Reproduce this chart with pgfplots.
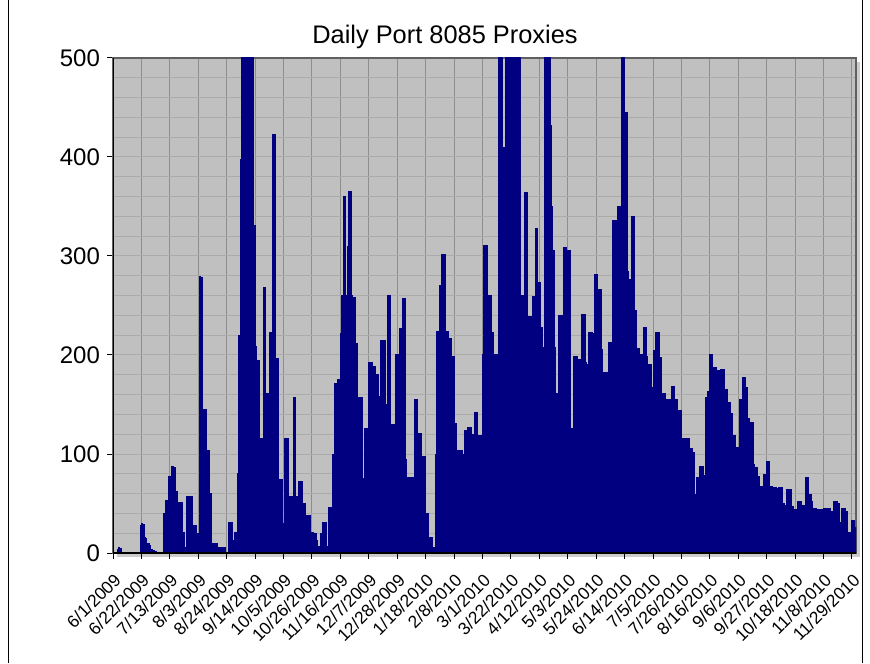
\documentclass[border=0pt]{standalone}
\usepackage{fontspec}
\setmainfont{Liberation Sans}
\usepackage{pgfplots}
\pgfplotsset{compat=1.18}
\usepackage{pgfplotstable}
\definecolor{navybar}{HTML}{000080}
\definecolor{plotbg}{HTML}{C0C0C0}
\definecolor{vgrid}{HTML}{8E8E8E}
\definecolor{hgrid}{HTML}{ABABAB}
\pgfplotstableread[row sep=\\]{
v\\
0\\0\\0\\4\\6\\5\\0\\0\\0\\0\\
0\\0\\0\\0\\0\\0\\0\\0\\0\\0\\
28\\30\\29\\16\\15\\10\\10\\8\\4\\3\\
3\\2\\0\\0\\0\\0\\0\\40\\40\\53\\
53\\77\\77\\87\\87\\86\\62\\62\\51\\51\\
51\\21\\21\\6\\57\\57\\57\\57\\57\\28\\
28\\28\\20\\20\\279\\278\\145\\145\\145\\104\\
104\\60\\60\\10\\10\\10\\10\\6\\6\\6\\
6\\6\\6\\0\\0\\31\\31\\31\\13\\13\\
21\\21\\80\\220\\397\\600\\600\\600\\600\\600\\
600\\600\\600\\600\\331\\209\\194\\194\\116\\116\\
116\\268\\268\\161\\161\\161\\223\\223\\423\\423\\
196\\196\\74\\74\\74\\30\\30\\116\\116\\116\\
57\\57\\57\\157\\157\\57\\57\\72\\72\\72\\
50\\50\\38\\38\\38\\38\\21\\21\\13\\20\\
13\\7\\7\\20\\20\\31\\31\\31\\7\\46\\
46\\46\\99\\99\\171\\91\\175\\175\\222\\260\\
360\\360\\260\\310\\365\\365\\260\\258\\258\\212\\
212\\157\\157\\157\\75\\75\\126\\126\\126\\192\\
192\\192\\188\\188\\180\\180\\158\\158\\215\\215\\
215\\150\\150\\260\\260\\130\\130\\130\\67\\200\\
200\\200\\227\\227\\257\\257\\94\\76\\76\\76\\
76\\76\\70\\155\\155\\121\\121\\121\\97\\97\\
97\\40\\40\\16\\16\\16\\6\\6\\100\\224\\
224\\270\\270\\302\\302\\302\\224\\224\\217\\217\\
198\\198\\131\\131\\104\\104\\104\\104\\99\\99\\
124\\124\\127\\127\\127\\120\\120\\142\\142\\119\\
119\\119\\99\\200\\311\\311\\311\\260\\260\\260\\
223\\200\\200\\200\\114\\600\\600\\600\\410\\410\\
600\\600\\600\\600\\600\\600\\600\\600\\600\\600\\
600\\260\\260\\205\\364\\364\\111\\239\\239\\239\\
259\\259\\328\\328\\273\\273\\228\\134\\208\\600\\
600\\600\\600\\432\\350\\306\\208\\161\\161\\240\\
240\\240\\200\\309\\309\\230\\306\\306\\126\\126\\
198\\198\\198\\126\\195\\195\\241\\241\\241\\192\\
190\\223\\223\\223\\222\\222\\281\\281\\266\\266\\
266\\206\\182\\182\\182\\182\\213\\213\\213\\336\\
336\\336\\269\\350\\350\\350\\600\\600\\445\\445\\
284\\276\\276\\340\\340\\245\\245\\207\\207\\200\\
200\\200\\228\\228\\198\\190\\190\\190\\167\\205\\
205\\223\\223\\223\\197\\146\\161\\161\\155\\155\\
155\\155\\155\\168\\168\\155\\155\\144\\144\\144\\
116\\116\\116\\116\\116\\116\\106\\106\\102\\102\\
59\\76\\76\\87\\87\\87\\78\\78\\157\\163\\
163\\200\\200\\187\\187\\187\\184\\184\\139\\185\\
185\\185\\165\\165\\152\\152\\141\\141\\119\\119\\
77\\107\\107\\155\\155\\177\\177\\167\\167\\136\\
132\\132\\132\\89\\86\\86\\77\\77\\67\\67\\
67\\79\\79\\92\\92\\67\\67\\66\\66\\66\\
65\\65\\66\\66\\66\\50\\48\\48\\64\\64\\
64\\47\\47\\44\\44\\44\\52\\52\\52\\48\\
48\\48\\76\\76\\59\\59\\52\\45\\45\\45\\
44\\44\\44\\44\\39\\45\\45\\45\\45\\45\\
42\\42\\52\\52\\52\\50\\50\\31\\45\\45\\
45\\42\\42\\21\\21\\21\\33\\33\\26\\
}\proxies

\begin{document}
\begin{tikzpicture}[x=1pt,y=1pt]
\useasboundingbox (0,0) rectangle (435,331.5);
\fill[white] (0,0) rectangle (435,331.5);
\draw[black, line width=0.5pt] (4,0) -- (4,331.5);
\draw[black, line width=0.5pt] (431,0) -- (431,331.5);
\fill[gray!40] (58.5,53) rectangle (430,300.5);
\node[font=\fontsize{12.7}{15}\selectfont] at (222.5,313) {Daily Port 8085 Proxies};
\begin{axis}[
  at={(56.5pt,55pt)}, anchor=south west,
  scale only axis, width=371.5pt, height=247.5pt,
  xmin=0, xmax=549, ymin=0, ymax=500,
  axis background/.style={fill=plotbg},
  axis line style={draw=gray!75!black, line width=0.6pt},
  xtick={0,21,...,546},
  xticklabels={6/1/2009,6/22/2009,7/13/2009,8/3/2009,8/24/2009,9/14/2009,10/5/2009,10/26/2009,11/16/2009,12/7/2009,12/28/2009,1/18/2010,2/8/2010,3/1/2010,3/22/2010,4/12/2010,5/3/2010,5/24/2010,6/14/2010,7/5/2010,7/26/2010,8/16/2010,9/6/2010,9/27/2010,10/18/2010,11/8/2010,11/29/2010},
  ytick={0,100,...,500},
  minor ytick={20,40,...,480},
  xmajorgrids, ymajorgrids, yminorgrids,
  major x grid style={draw=vgrid, line width=0.5pt},
  major y grid style={draw=hgrid, line width=0.5pt},
  minor y grid style={draw=hgrid, line width=0.5pt},
  tick align=outside, major tick length=3pt, minor tick length=0pt,
  xtick pos=left, ytick pos=left,
  tick style={black, line width=0.5pt},
  xticklabel style={yshift=-5pt, rotate=45, anchor=north east, font=\fontsize{8.7}{10}\selectfont, inner sep=1pt},
  yticklabel style={font=\fontsize{12}{14}\selectfont},
  /pgf/number format/assume math mode=true,
]
\addplot[ybar, bar width=1, bar shift=0pt, fill=navybar, draw=navybar, line width=0.5pt]
  table[x expr=\coordindex+0.5, y=v] {\proxies};
\draw[black, line width=0.8pt] (rel axis cs:0,1) -- (rel axis cs:0,0) -- (rel axis cs:1,0);
\end{axis}
\end{tikzpicture}
\end{document}
